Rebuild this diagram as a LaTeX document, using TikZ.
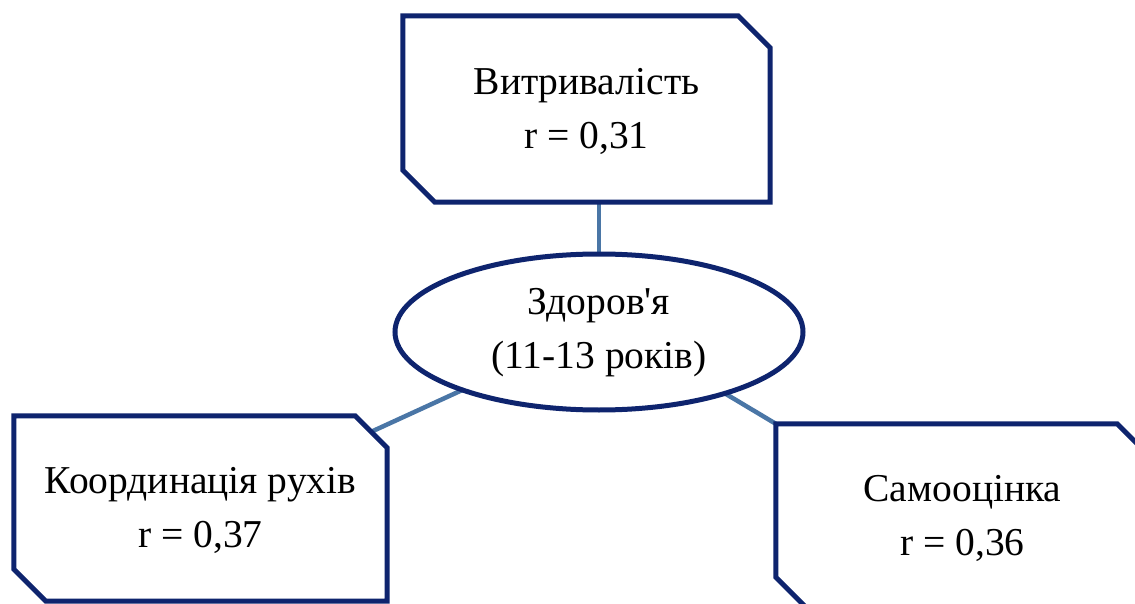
\documentclass[tikz,border=0pt]{standalone}
\usepackage{fontspec}
\setmainfont{Liberation Serif}[Ligatures=TeXOff]
\usetikzlibrary{calc,shapes.geometric}
\definecolor{navy}{RGB}{14,36,110}
\definecolor{linkblue}{RGB}{74,118,166}
\tikzset{
  label text/.style={align=center, inner sep=0pt, font=\fontsize{39.5}{54}\selectfont},
  boxarea/.style={label text, minimum width=373pt, minimum height=185pt},
  outline/.style={draw=navy, line width=5pt, fill=white, line join=miter},
  link/.style={draw=linkblue, line width=4.5pt},
}
% outline of a box with its top-right and bottom-left corners cut off
\newcommand\cutbox[2]{%
  \draw[outline] (#1.north west) -- ($(#1.north east)+(-#2,0)$)
    -- ($(#1.north east)+(0,#2)$) -- (#1.south east)
    -- ($(#1.south west)+(#2,0)$) -- ($(#1.south west)+(0,-#2)$) -- cycle;}
\begin{document}
\begin{tikzpicture}[x=1pt,y=-1pt]
  \useasboundingbox (0,0) rectangle (1135,604);
  \clip (0,0) rectangle (1135,604);
  \fill[white] (0,0) rectangle (1135,604);

  % node areas
  \node[boxarea, minimum width=367pt, minimum height=186pt] (top) at (586.5,109) {};
  \node[boxarea] (left) at (200.5,508.5) {};
  \node[boxarea] (right) at (962.5,516.5) {};
  \node[ellipse, minimum width=408pt, minimum height=156pt, inner sep=0pt] (ell) at (599,332) {};
  \coordinate (leftcut) at ($(left.north east)+(-16,16)$);

  % connectors
  \draw[link] (ell.north) -- (ell.north |- top.south);
  \draw[link] (ell.203) -- (leftcut);
  \draw[link] (ell.334) -- (right.north west);

  % shapes
  \cutbox{top}{32}
  \cutbox{left}{32}
  \cutbox{right}{32}
  \draw[outline] (ell.center) ellipse[x radius=204pt, y radius=78pt];

  % texts
  \node[label text] at ([yshift=-2pt]top) {Витривалість\\r = 0,31};
  \node[label text] at ([yshift=-2pt]left) {Координація рухів\\r = 0,37};
  \node[label text] at ([yshift=-2pt]right) {Самооцінка\\r = 0,36};
  \node[label text] at ([yshift=-1pt]ell) {Здоров'я\\(11-13 років)};
\end{tikzpicture}
\end{document}
